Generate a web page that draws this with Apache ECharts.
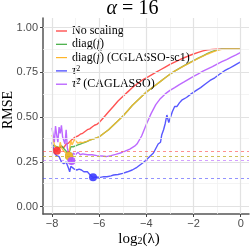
<!DOCTYPE html>
<html>
<head>
<meta charset="utf-8">
<script src="https://cdn.jsdelivr.net/npm/echarts@6/dist/echarts.min.js"></script>
<style>html,body{margin:0;padding:0;background:#fff}#c{width:250px;height:247px}</style>
</head>
<body>
<div id="c"></div>
<script>
// ---- data (log2(lambda), RMSE) ----
const seriesNames = ['No scaling', 'diag(f)', 'diag(fhat) (CGLASSO-sc1)', 'tau2', 'tauhat2 (CAGLASSO)'];
const noScaling = [[-8.0,0.335],[-7.95,0.33],[-7.9,0.318],[-7.85,0.313],[-7.8,0.3125],[-7.7,0.325],[-7.6,0.335],[-7.5,0.33],[-7.4,0.35],[-7.3,0.355],[-7.2,0.37],[-7.1,0.38],[-7.0,0.39],[-6.9,0.395],[-6.8,0.405],[-6.7,0.41],[-6.6,0.42],[-6.5,0.43],[-6.4,0.435],[-6.3,0.445],[-6.2,0.455],[-6.1,0.46],[-6.0,0.47],[-5.8,0.5],[-5.6,0.53],[-5.4,0.56],[-5.2,0.59],[-5.0,0.615],[-4.8,0.64],[-4.6,0.665],[-4.4,0.685],[-4.2,0.705],[-4.0,0.72],[-3.8,0.735],[-3.6,0.75],[-3.4,0.765],[-3.2,0.78],[-3.0,0.795],[-2.8,0.808],[-2.6,0.82],[-2.4,0.832],[-2.2,0.843],[-2.0,0.853],[-1.8,0.862],[-1.6,0.87],[-1.4,0.876],[-1.2,0.879],[-1.0,0.88],[-0.5,0.88],[0,0.88]];
const diagF = [[-8.0,0.345],[-7.9,0.34],[-7.8,0.335],[-7.7,0.33],[-7.6,0.34],[-7.5,0.325],[-7.4,0.31],[-7.3,0.29],[-7.28,0.283],[-7.2,0.335],[-7.1,0.335],[-7.0,0.34],[-6.9,0.345],[-6.8,0.35],[-6.7,0.355],[-6.6,0.36],[-6.5,0.365],[-6.4,0.372],[-6.2,0.38],[-6.0,0.39],[-5.8,0.41],[-5.6,0.43],[-5.4,0.455],[-5.2,0.48],[-5.0,0.505],[-4.8,0.535],[-4.6,0.565],[-4.4,0.59],[-4.2,0.615],[-4.0,0.64],[-3.8,0.66],[-3.6,0.68],[-3.4,0.7],[-3.2,0.72],[-3.0,0.74],[-2.8,0.757],[-2.6,0.773],[-2.4,0.788],[-2.2,0.802],[-2.0,0.816],[-1.8,0.83],[-1.6,0.843],[-1.4,0.856],[-1.2,0.867],[-1.0,0.876],[-0.8,0.88],[0,0.88]];
const diagFhat = [[-8.0,0.4],[-7.95,0.38],[-7.9,0.345],[-7.8,0.33],[-7.7,0.32],[-7.65,0.36],[-7.6,0.33],[-7.5,0.31],[-7.4,0.3],[-7.3,0.285],[-7.28,0.283],[-7.2,0.37],[-7.15,0.345],[-7.05,0.375],[-6.9,0.355],[-6.8,0.36],[-6.7,0.358],[-6.6,0.362],[-6.5,0.366],[-6.4,0.372],[-6.2,0.38],[-6.0,0.39],[-5.8,0.41],[-5.6,0.43],[-5.4,0.455],[-5.2,0.48],[-5.0,0.505],[-4.8,0.535],[-4.6,0.565],[-4.4,0.59],[-4.2,0.615],[-4.0,0.64],[-3.8,0.66],[-3.6,0.68],[-3.4,0.7],[-3.2,0.72],[-3.0,0.74],[-2.8,0.757],[-2.6,0.772],[-2.4,0.786],[-2.2,0.8],[-2.0,0.814],[-1.8,0.828],[-1.6,0.841],[-1.4,0.853],[-1.2,0.864],[-1.0,0.873],[-0.8,0.879],[-0.6,0.88],[0,0.88]];
const tau2 = [[-8.0,0.36],[-7.95,0.33],[-7.9,0.3],[-7.85,0.305],[-7.8,0.285],[-7.7,0.28],[-7.6,0.25],[-7.5,0.24],[-7.45,0.232],[-7.4,0.25],[-7.3,0.215],[-7.25,0.195],[-7.2,0.225],[-7.15,0.215],[-7.05,0.21],[-6.95,0.205],[-6.85,0.21],[-6.75,0.205],[-6.65,0.195],[-6.6,0.185],[-6.5,0.195],[-6.45,0.19],[-6.35,0.172],[-6.26,0.164],[-6.1,0.166],[-5.95,0.164],[-5.8,0.168],[-5.67,0.167],[-5.5,0.172],[-5.39,0.177],[-5.2,0.18],[-5.0,0.186],[-4.8,0.195],[-4.6,0.205],[-4.4,0.22],[-4.2,0.24],[-4.1,0.25],[-3.9,0.275],[-3.7,0.3],[-3.6,0.325],[-3.5,0.35],[-3.4,0.36],[-3.35,0.4],[-3.27,0.43],[-3.2,0.465],[-3.13,0.512],[-3.05,0.47],[-3.0,0.465],[-2.9,0.53],[-2.8,0.56],[-2.7,0.56],[-2.6,0.58],[-2.5,0.595],[-2.3,0.61],[-2.1,0.63],[-1.9,0.648],[-1.7,0.665],[-1.5,0.685],[-1.3,0.705],[-1.1,0.72],[-0.9,0.74],[-0.7,0.758],[-0.5,0.772],[-0.3,0.787],[-0.1,0.802],[0,0.809]];
const tauhat2 = [[-8.0,0.44],[-7.95,0.4],[-7.9,0.36],[-7.85,0.45],[-7.8,0.4],[-7.75,0.36],[-7.7,0.445],[-7.65,0.41],[-7.6,0.455],[-7.55,0.39],[-7.5,0.37],[-7.45,0.35],[-7.4,0.43],[-7.35,0.33],[-7.3,0.3],[-7.25,0.28],[-7.17,0.255],[-7.1,0.3],[-7.0,0.29],[-6.9,0.305],[-6.8,0.29],[-6.7,0.295],[-6.5,0.29],[-6.3,0.29],[-6.1,0.285],[-5.9,0.283],[-5.7,0.28],[-5.5,0.285],[-5.3,0.292],[-5.1,0.3],[-4.9,0.31],[-4.7,0.322],[-4.5,0.338],[-4.4,0.35],[-4.2,0.395],[-4.0,0.46],[-3.9,0.49],[-3.8,0.52],[-3.7,0.545],[-3.6,0.57],[-3.4,0.605],[-3.2,0.63],[-3.0,0.65],[-2.8,0.665],[-2.6,0.682],[-2.4,0.697],[-2.2,0.713],[-2.0,0.728],[-1.8,0.742],[-1.6,0.757],[-1.4,0.77],[-1.2,0.783],[-1.0,0.797],[-0.8,0.81],[-0.6,0.822],[-0.4,0.835],[-0.2,0.848],[0,0.862]];
const bestLambda = [-7.79, -7.28, -7.28, -6.26, -7.17];
const bestRmse = [0.3125, 0.283, 0.283, 0.164, 0.255];
const xTicks = [-8, -6, -4, -2, 0];
const xMinor = [-7, -5, -3, -1];
const yTicks = [0, 0.25, 0.5, 0.75, 1];
const yMinor = [0.125, 0.375, 0.625, 0.875];

const colors = ['#FF3535', '#3DAA3D', '#FFB52A', '#3B3BFF', '#B150FF'];
const allData = [noScaling, diagF, diagFhat, tau2, tauhat2];
const legendLabels = {
  'No scaling': 'No scaling',
  'diag(f)': 'diag({i|f})',
  'diag(fhat) (CGLASSO-sc1)': 'diag({i|f\u0302}) (CGLASSO-sc1)',
  'tau2': '{i|\u03C4}{sup|2}',
  'tauhat2 (CAGLASSO)': '{i|\u03C4\u0302}{sup|2} (CAGLASSO)'
};
const serif = '"Liberation Serif", "DejaVu Serif", serif';
const richSerif = {
  i: {fontFamily: serif, fontStyle: 'italic', fontSize: 12, lineHeight: 12},
  sup: {fontFamily: serif, fontSize: 8, lineHeight: 8, verticalAlign: 'top'}
};

const series = [];
// gridlines
series.push({
  type: 'line', data: [], silent: true, z: 0,
  markLine: {
    silent: true, symbol: 'none', label: {show: false}, animation: false,
    data: [
      ...xMinor.map(v => ({xAxis: v, lineStyle: {color: '#F1F1F1', width: 0.8, type: 'solid'}})),
      ...yMinor.map(v => ({yAxis: v, lineStyle: {color: '#F1F1F1', width: 0.8, type: 'solid'}})),
      ...xTicks.map(v => ({xAxis: v, lineStyle: {color: '#E2E2E2', width: 1.2, type: 'solid'}})),
      ...yTicks.map(v => ({yAxis: v, lineStyle: {color: '#E2E2E2', width: 1.2, type: 'solid'}}))
    ]
  }
});
seriesNames.forEach((n, i) => {
  series.push({
    name: n, type: 'line', data: allData[i], showSymbol: false, symbol: 'none',
    lineStyle: {color: colors[i], width: 1.4, opacity: 0.85},
    itemStyle: {color: colors[i]},
    z: 3,
    markLine: {
      silent: true, symbol: 'none', label: {show: false}, animation: false,
      lineStyle: {color: colors[i], width: 1, type: [3, 3], opacity: 0.55},
      data: [{yAxis: bestRmse[i]}]
    }
  });
});
seriesNames.forEach((n, i) => {
  series.push({
    type: 'scatter', data: [[bestLambda[i], bestRmse[i]]], symbolSize: 8, z: 4,
    itemStyle: {color: colors[i], opacity: 0.9}, silent: true
  });
});

const chart = echarts.init(document.getElementById('c'), null, {renderer: 'canvas'});
chart.setOption({
  animation: false,
  backgroundColor: '#ffffff',
  grid: {left: 43, right: 1, top: 18, bottom: 33, containLabel: false},
  xAxis: {
    type: 'value', min: -8.381, max: 0.351,
    splitLine: {show: false},
    axisLine: {show: true, onZero: false, lineStyle: {color: '#555', width: 1.5}},
    axisTick: {show: true, length: 3, lineStyle: {color: '#444'}, customValues: xTicks},
    axisLabel: {customValues: xTicks, margin: 4, color: '#4D4D4D', fontSize: 11,
      fontFamily: '"Liberation Sans", Arial, sans-serif',
      formatter: v => (v < 0 ? '\u2212' + Math.abs(v) : String(v))}
  },
  yAxis: {
    type: 'value', min: -0.0408, max: 1.054,
    splitLine: {show: false},
    axisLine: {show: true, onZero: false, lineStyle: {color: '#555', width: 1.5}},
    axisTick: {show: true, length: 3, lineStyle: {color: '#444'}, customValues: yTicks},
    axisLabel: {customValues: yTicks, margin: 5, color: '#4D4D4D', fontSize: 11,
      fontFamily: '"Liberation Sans", Arial, sans-serif',
      formatter: v => v.toFixed(2)}
  },
  legend: {
    orient: 'vertical', left: 51, top: 20,
    data: seriesNames,
    itemWidth: 11, itemHeight: 8, itemGap: 1.3,
    icon: 'path://M0,3.4H11V4.6H0Z',
    formatter: n => legendLabels[n],
    textStyle: {fontFamily: serif, fontSize: 12, color: '#000', lineHeight: 12, rich: richSerif},
    selectedMode: false
  },
  graphic: [
    {type: 'text', x: 132.5, y: 9, style: {text: '{i|\u03B1} = 16', align: 'center', verticalAlign: 'middle',
      font: '20px ' + serif, fill: '#000',
      rich: {i: {fontFamily: serif, fontStyle: 'italic', fontSize: 20}}}},
    {type: 'text', x: 8, y: 110, rotation: Math.PI / 2, style: {text: 'RMSE', align: 'center', verticalAlign: 'middle',
      font: '14px ' + serif, fill: '#000'}},
    {type: 'text', x: 139, y: 239, style: {text: 'log{sub|2}(\u03BB)', align: 'center', verticalAlign: 'middle',
      font: '15px ' + serif, fill: '#000',
      rich: {sub: {fontFamily: serif, fontSize: 10, lineHeight: 14, verticalAlign: 'bottom', padding: [6, 0, 0, 0]}}}}
  ],
  series: series
});
</script>
</body>
</html>
